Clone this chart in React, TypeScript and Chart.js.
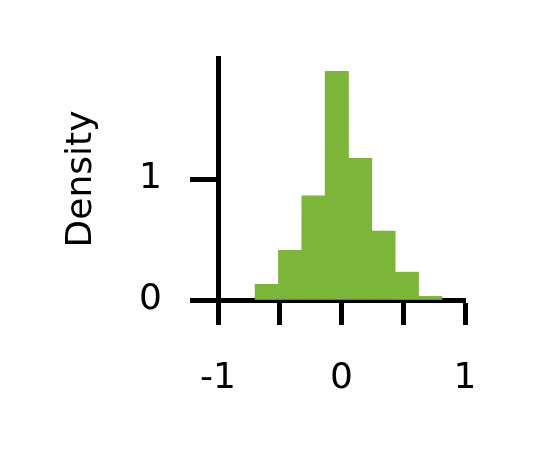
import { useEffect, useRef } from "react";
import { Chart, registerables } from "chart.js";

Chart.register(...registerables);

// bin centres (width ~0.19) and density heights
const binCenters = [-0.605, -0.416, -0.227, -0.038, 0.151, 0.34, 0.529, 0.718];
const densities = [0.13, 0.41, 0.86, 1.89, 1.17, 0.57, 0.23, 0.03];
const xTicks = [-1, -0.5, 0, 0.5, 1];
const yTicks = [0, 1];

export default function App() {
  const canvasRef = useRef<HTMLCanvasElement>(null);

  useEffect(() => {
    if (!canvasRef.current) return;
    document.body.style.margin = "0";
    const font = { family: "DejaVu Sans", size: 36 };
    const chart = new Chart(canvasRef.current, {
      type: "bar",
      data: {
        datasets: [
          {
            data: binCenters.map((x, i) => ({ x, y: densities[i] })),
            backgroundColor: "#7cb53a",
            barPercentage: 1,
            categoryPercentage: 1,
          },
        ],
      },
      options: {
        animation: false,
        responsive: false,
        layout: { padding: { left: 60, top: 58, right: 73, bottom: 0 } },
        plugins: { legend: { display: false }, tooltip: { enabled: false } },
        scales: {
          x: {
            type: "linear",
            min: -1,
            max: 1,
            offset: false,
            afterFit: (s: any) => { s.height = 159; },
            afterBuildTicks: (s: any) => { s.ticks = xTicks.map((v) => ({ value: v })); },
            border: { display: true, color: "#000", width: 5 },
            grid: { offset: false, drawOnChartArea: false, tickLength: 25, tickWidth: 5, tickColor: "#000" },
            ticks: {
              color: "#000",
              font,
              padding: 32,
              maxRotation: 0,
              callback: (v: any) => (v === -1 || v === 0 || v === 1 ? String(v) : ""),
            },
          },
          y: {
            min: 0,
            max: 2,
            afterFit: (s: any) => { s.width = 158; },
            afterBuildTicks: (s: any) => { s.ticks = yTicks.map((v) => ({ value: v })); },
            border: { display: true, color: "#000", width: 5 },
            grid: { drawOnChartArea: false, tickLength: 28, tickWidth: 5, tickColor: "#000" },
            ticks: { color: "#000", font, padding: 28, callback: (v: any) => String(v) },
            title: { display: true, text: "Density", color: "#000", font, padding: 0 },
          },
        },
      },
    });
    return () => chart.destroy();
  }, []);

  return <canvas ref={canvasRef} width={538} height={459} style={{ display: "block", background: "#fff" }} />;
}
